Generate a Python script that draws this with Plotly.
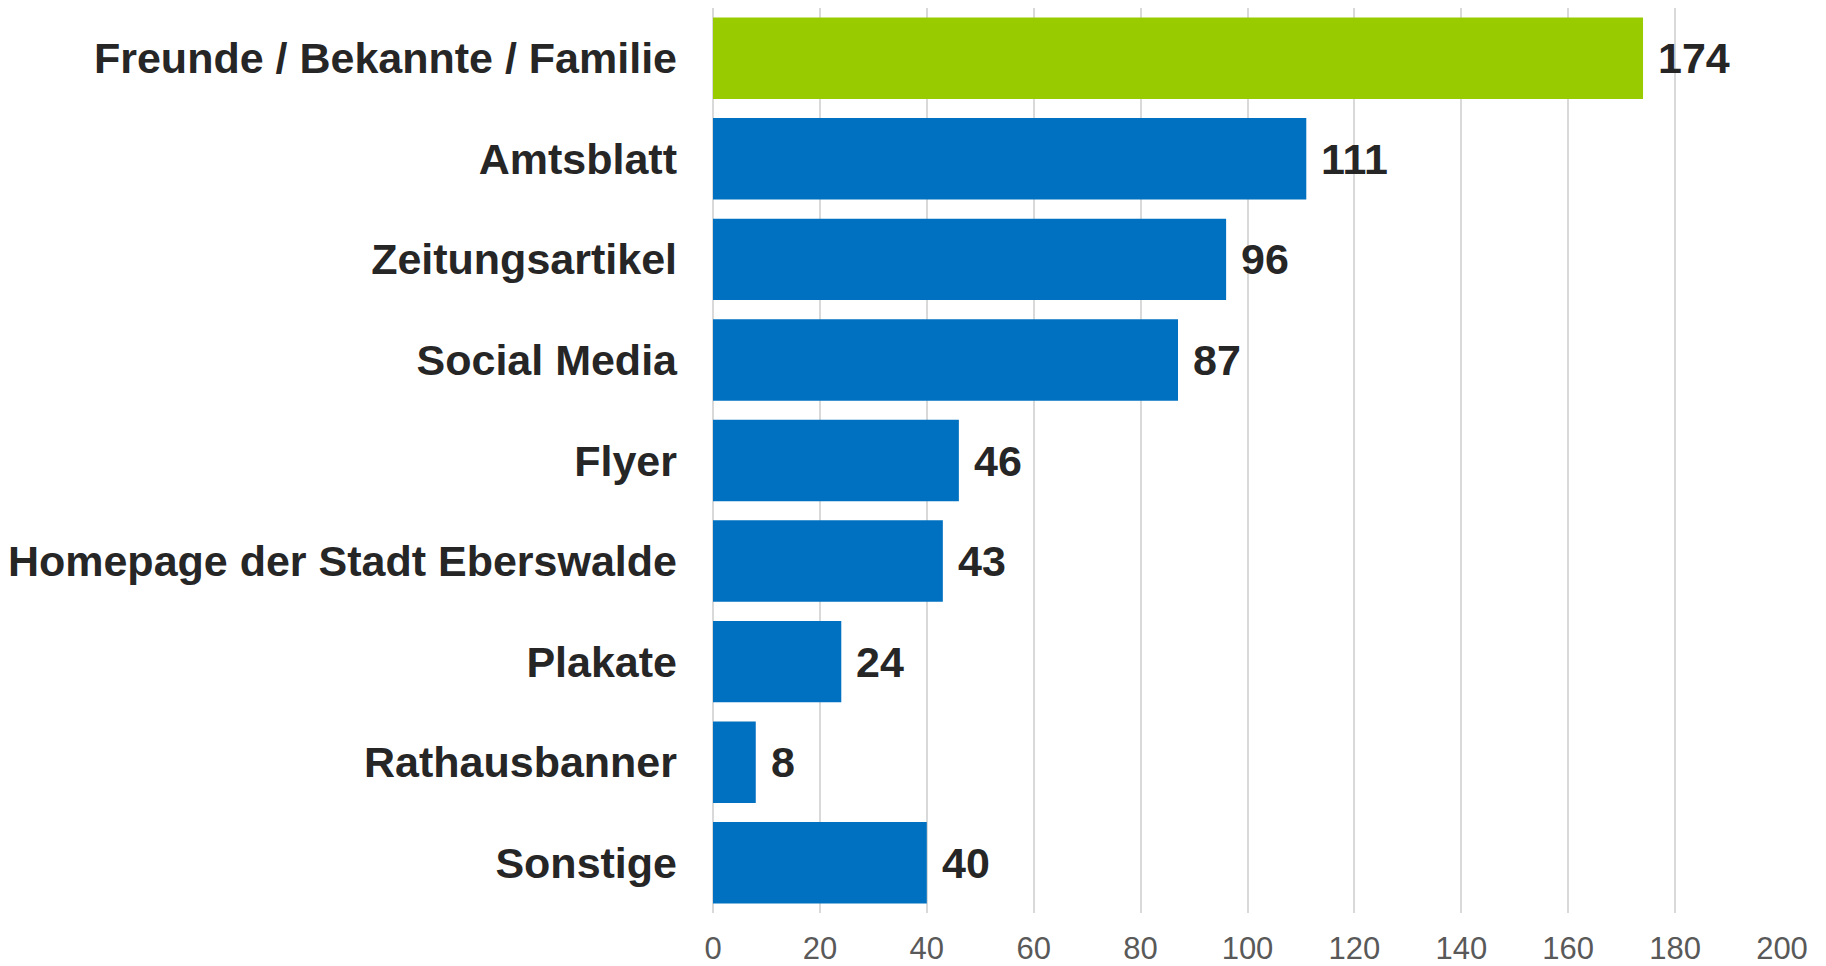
import plotly.graph_objects as go

categories = [
    "Freunde / Bekannte / Familie",
    "Amtsblatt",
    "Zeitungsartikel",
    "Social Media",
    "Flyer",
    "Homepage der Stadt Eberswalde",
    "Plakate",
    "Rathausbanner",
    "Sonstige",
]
values = [174, 111, 96, 87, 46, 43, 24, 8, 40]
bar_colors = ["#99CC00"] + ["#0070C0"] * 8
x_ticks = [0, 20, 40, 60, 80, 100, 120, 140, 160, 180, 200]

FONT = "Liberation Sans, Arial, sans-serif"

fig = go.Figure()
fig.add_trace(go.Bar(
    y=categories,
    x=values,
    orientation="h",
    marker=dict(color=bar_colors, line=dict(width=0)),
    hoverinfo="skip",
))

for c, v in zip(categories, values):
    fig.add_annotation(
        x=v, y=c, text=f"<b>{v}</b>", showarrow=False,
        xanchor="left", yanchor="middle", xshift=13, yshift=0,
        font=dict(family=FONT, size=43, color="#262626"),
    )

fig.update_layout(
    width=1810, height=958,
    margin=dict(l=705, r=36, t=0, b=53, pad=0),
    paper_bgcolor="white", plot_bgcolor="white",
    showlegend=False,
    bargap=0.19,
    xaxis=dict(
        range=[0, 200], tickvals=x_ticks, ticktext=[str(t) for t in x_ticks],
        showgrid=True, gridcolor="#D9D9D9", gridwidth=1.5,
        zeroline=True, zerolinecolor="#D9D9D9", zerolinewidth=1.5,
        showline=False, ticks="",
        tickfont=dict(family=FONT, size=31, color="#595959"),
        ticklabelstandoff=14,
        automargin=False,
        fixedrange=True,
    ),
    yaxis=dict(
        categoryorder="array", categoryarray=categories,
        autorange="reversed",
        showgrid=False, zeroline=False, showline=False, ticks="",
        tickfont=dict(family=FONT, size=43, color="#262626", weight="bold"),
        ticklabelstandoff=35,
        automargin=False,
        fixedrange=True,
    ),
)

fig.write_html("out.html")
